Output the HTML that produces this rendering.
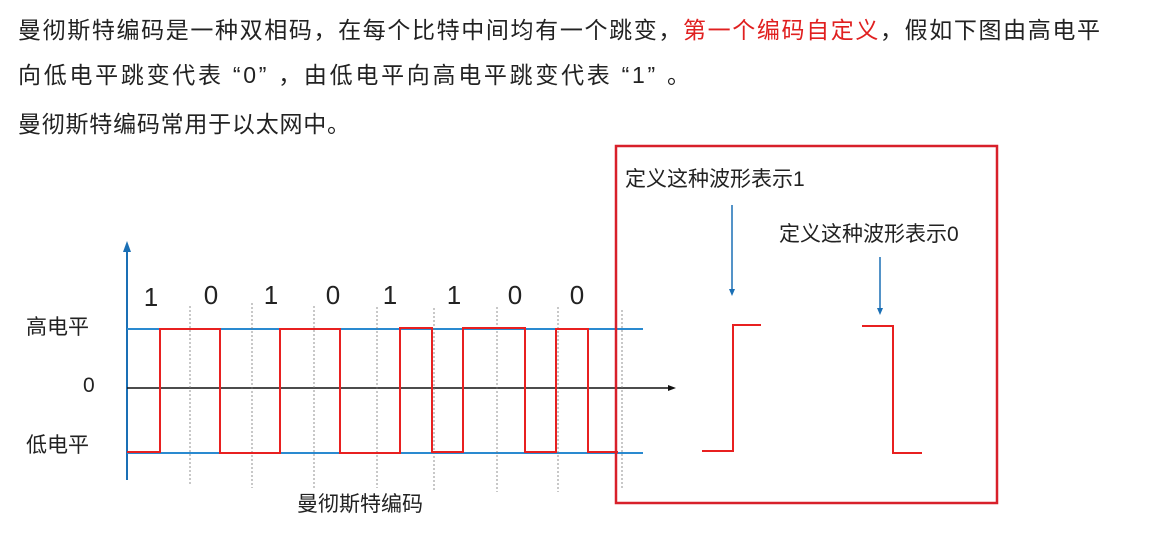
<!DOCTYPE html>
<html><head><meta charset="utf-8"><style>
html,body{margin:0;padding:0;background:#fff;width:1150px;height:544px;overflow:hidden}
text{font-family:"Liberation Sans","Noto Sans CJK SC",sans-serif;fill:#222}
</style></head><body>
<svg width="1150" height="544" viewBox="0 0 1150 544" xmlns="http://www.w3.org/2000/svg">
<g font-size="23">
<text x="18" y="38" textLength="1082" lengthAdjust="spacing">曼彻斯特编码是一种双相码，在每个比特中间均有一个跳变，<tspan fill="#e02020">第一个编码自定义</tspan>，假如下图由高电平</text>
<text x="18" y="83" textLength="672" lengthAdjust="spacing">向低电平跳变代表 “0” ，由低电平向高电平跳变代表 “1” 。</text>
<text x="18" y="132" textLength="332" lengthAdjust="spacing">曼彻斯特编码常用于以太网中。</text>
</g>
<line x1="127" y1="480" x2="127" y2="248" stroke="#1a6fb5" stroke-width="2"/>
<path d="M123,252 L127,241 L131,252 Z" fill="#1a6fb5"/>
<line x1="127" y1="329" x2="643" y2="329" stroke="#2a8ad0" stroke-width="2"/>
<line x1="127" y1="453" x2="643" y2="453" stroke="#2a8ad0" stroke-width="2"/>
<line x1="127" y1="388" x2="670" y2="388" stroke="#111" stroke-width="1.5"/>
<path d="M668,385 L676,388 L668,391 Z" fill="#111"/>
<g stroke="#777" stroke-width="0.8" stroke-dasharray="2,2">
<line x1="190" y1="306" x2="190" y2="485"/><line x1="252" y1="303" x2="252" y2="488"/>
<line x1="314" y1="306" x2="314" y2="490"/><line x1="377" y1="307" x2="377" y2="488"/>
<line x1="434" y1="308" x2="434" y2="490"/><line x1="497" y1="307" x2="497" y2="492"/>
<line x1="558" y1="307" x2="558" y2="492"/><line x1="622" y1="310" x2="622" y2="490"/>
</g>
<path d="M127,452 H160 V329 H220 V453 H280 V329 H340 V453 H400 V328 H432 V452 H463 V328 H525 V452 H556 V329 H588 V452 H618" fill="none" stroke="#e82020" stroke-width="2"/>
<g font-size="26" text-anchor="middle">
<text x="151" y="306">1</text><text x="211" y="304">0</text><text x="271" y="304">1</text><text x="333" y="304">0</text>
<text x="390" y="304">1</text><text x="454" y="304">1</text><text x="515" y="304">0</text><text x="577" y="304">0</text>
</g>
<g font-size="21">
<text x="26" y="334">高电平</text><text x="83" y="392">0</text><text x="26" y="452">低电平</text>
<text x="297" y="511">曼彻斯特编码</text>
</g>
<rect x="616" y="146" width="381" height="357" fill="none" stroke="#d8202a" stroke-width="2.5"/>
<g font-size="21">
<text x="625" y="186">定义这种波形表示1</text>
<text x="779" y="241">定义这种波形表示0</text>
</g>
<line x1="732" y1="205" x2="732" y2="290" stroke="#1a6fb5" stroke-width="1.5"/>
<path d="M729,289 L732,296 L735,289 Z" fill="#1a6fb5"/>
<line x1="880" y1="257" x2="880" y2="309" stroke="#1a6fb5" stroke-width="1.5"/>
<path d="M877,308 L880,315 L883,308 Z" fill="#1a6fb5"/>
<path d="M702,451 H733 V325 H761" fill="none" stroke="#e82020" stroke-width="2"/>
<path d="M862,326 H893 V453 H922" fill="none" stroke="#e82020" stroke-width="2"/>
</svg>
</body></html>
